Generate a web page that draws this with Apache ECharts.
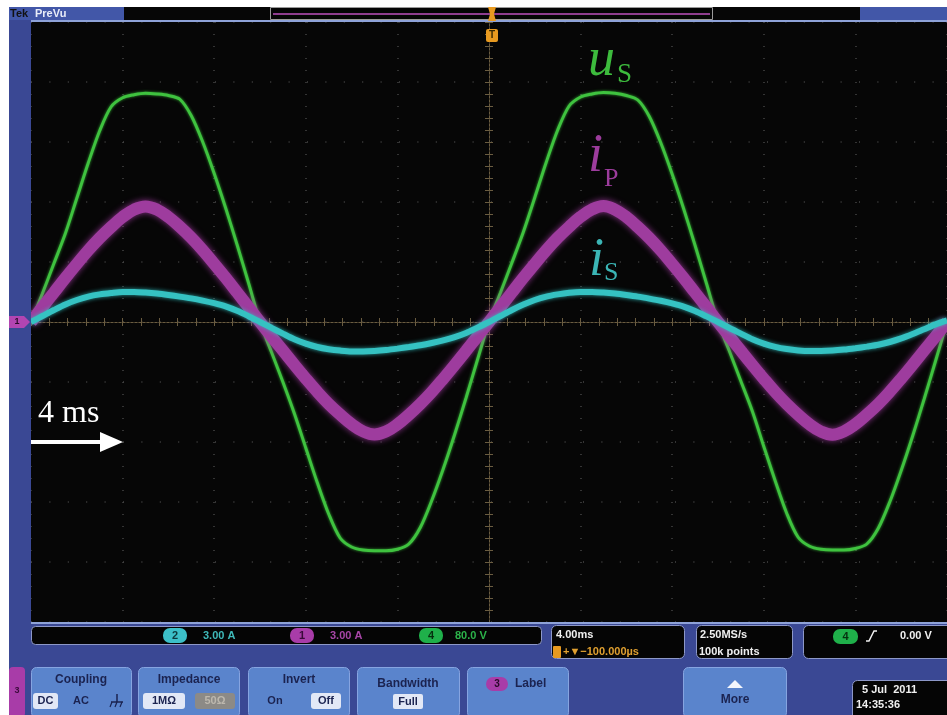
<!DOCTYPE html>
<html>
<head>
<meta charset="utf-8">
<script src="https://cdn.jsdelivr.net/npm/echarts@6/dist/echarts.min.js"></script>
<style>
  html, body { margin: 0; padding: 0; background: #fff; }
  #main { width: 947px; height: 715px; }
</style>
</head>
<body>
<div id="main"></div>
<script>
// time base 4 ms/div, trigger at 0
var timeMs = [-20, -19.5, -19, -18.5, -18, -17.5, -17, -16.5, -16, -15.5, -15, -14.5, -14, -13.5, -13, -12.5, -12, -11.5, -11, -10.5,
  -10, -9.5, -9, -8.5, -8, -7.5, -7, -6.5, -6, -5.5, -5, -4.5, -4, -3.5, -3, -2.5, -2, -1.5, -1, -0.5,
  0, 0.5, 1, 1.5, 2, 2.5, 3, 3.5, 4, 4.5, 5, 5.5, 6, 6.5, 7, 7.5, 8, 8.5, 9, 9.5,
  10, 10.5, 11, 11.5, 12, 12.5, 13, 13.5, 14, 14.5, 15, 15.5, 16, 16.5, 17, 17.5, 18, 18.5, 19, 19.5, 20];

// ch4 u_S (80 V/div)
var usV = [0, 38, 78, 118, 165, 212, 255, 287, 299, 303, 305, 304, 302, 297, 275, 240, 198, 152, 103, 52,
  0, -40, -80, -122, -168, -214, -256, -288, -300, -304, -305, -305, -303, -296, -274, -238, -196, -150, -101, -50,
  0, 39, 79, 120, 166, 213, 256, 288, 300, 304, 306, 305, 302, 296, 274, 239, 197, 151, 102, 51,
  0, -39, -79, -119, -166, -212, -255, -287, -299, -303, -304, -304, -302, -296, -275, -240, -198, -152, -103, -52, 0];

// ch1 i_P (3 A/div)
var ipA = [0, 0.74, 1.47, 2.2, 2.9, 3.58, 4.2, 4.75, 5.25, 5.62, 5.78, 5.62, 5.25, 4.76, 4.21, 3.59, 2.91, 2.21, 1.48, 0.74,
  0, -0.72, -1.43, -2.14, -2.83, -3.49, -4.1, -4.63, -5.11, -5.47, -5.63, -5.48, -5.12, -4.64, -4.1, -3.5, -2.84, -2.15, -1.44, -0.72,
  0, 0.74, 1.48, 2.21, 2.91, 3.59, 4.21, 4.76, 5.26, 5.63, 5.8, 5.62, 5.25, 4.75, 4.2, 3.58, 2.9, 2.2, 1.47, 0.74,
  0, -0.72, -1.44, -2.15, -2.84, -3.5, -4.1, -4.64, -5.12, -5.48, -5.64, -5.47, -5.11, -4.63, -4.1, -3.49, -2.83, -2.14, -1.43, -0.72, 0];

// ch2 i_S (3 A/div)
var isA = [0, 0.3, 0.6, 0.88, 1.1, 1.27, 1.38, 1.45, 1.5, 1.5, 1.47, 1.42, 1.35, 1.27, 1.18, 1.07, 0.94, 0.78, 0.56, 0.29,
  0, -0.29, -0.58, -0.86, -1.08, -1.25, -1.36, -1.43, -1.47, -1.47, -1.45, -1.4, -1.33, -1.25, -1.16, -1.05, -0.92, -0.76, -0.55, -0.28,
  0, 0.3, 0.6, 0.87, 1.1, 1.27, 1.38, 1.46, 1.5, 1.5, 1.47, 1.42, 1.35, 1.27, 1.17, 1.06, 0.93, 0.77, 0.55, 0.28,
  0, -0.3, -0.58, -0.86, -1.08, -1.24, -1.35, -1.42, -1.45, -1.45, -1.43, -1.38, -1.31, -1.23, -1.14, -1.0, -0.82, -0.6, -0.36, -0.12, 0.08];

function pairs(vals) {
  return timeMs.map(function (t, i) { return [t, vals[i]]; });
}

var BLUE = '#3a4894', BTN = '#5a84cc', NAVY = '#1b2350', FRAME = '#8d98c8';
var UIFONT = 'bold 11px "Liberation Sans"';

function rect(x, y, w, h, fill, stroke, r) {
  return { type: 'rect', z: 50, shape: { x: x, y: y, width: w, height: h, r: r || 0 },
    style: { fill: fill, stroke: stroke || null, lineWidth: 1 } };
}
function txt(x, y, s, font, fill, align) {
  return { type: 'text', z: 60, style: { text: s, x: x, y: y, font: font, fill: fill,
    align: align || 'left', verticalAlign: 'middle', textAlign: align || 'left', textVerticalAlign: 'middle' } };
}
function poly(points, fill) {
  return { type: 'polygon', z: 55, shape: { points: points }, style: { fill: fill } };
}
function line(pts, stroke, w) {
  return { type: 'polyline', z: 55, shape: { points: pts }, style: { stroke: stroke, lineWidth: w || 1, fill: null } };
}

var graphics = [
  rect(0, 0, 947, 7, '#ffffff'),
  rect(0, 0, 9, 715, '#ffffff'),
  rect(9, 20, 22, 695, BLUE),
  rect(9, 623, 938, 92, BLUE),
  // top bar
  rect(9, 7, 115, 13, '#4257a8'),
  txt(10, 13.5, 'Tek', 'bold 11px "Liberation Sans"', '#111111'),
  txt(35, 13.5, 'PreVu', 'bold 11px "Liberation Sans"', '#e8ecf8'),
  rect(270.5, 7.5, 442, 12, '#050505', '#9a9a9a'),
  line([[273, 14], [710, 14]], '#8f3d8f', 2),
  rect(860, 7, 87, 13, '#4257a8'),
  rect(31, 20, 916, 2, '#8ea2d8'),
  rect(31, 622, 916, 2, '#8ea2d8'),
  // trigger markers
  poly([[488, 7], [496, 7], [494, 14], [496, 21], [488, 21], [490, 14]], '#e89a20'),
  rect(486, 29, 12, 13, '#e89a20', null, 2),
  txt(492, 35.5, 'T', 'bold 10px "Liberation Sans"', '#3a2a00', 'center'),
  // ch1 ground marker
  poly([[9, 316], [24, 316], [30, 322], [24, 328], [9, 328]], '#b245b2'),
  txt(17, 322, '1', 'bold 9px "Liberation Sans"', '#2a0a2a', 'center'),
  // status readouts
  rect(31.5, 626.5, 510, 18, '#050505', FRAME, 4),
  rect(163, 628, 24, 15, '#3cc0c8', null, 7),
  txt(175, 635.5, '2', UIFONT, '#0d3a3d', 'center'),
  txt(203, 635.5, '3.00 A', UIFONT, '#3fb9b9'),
  rect(290, 628, 24, 15, '#a83ca8', null, 7),
  txt(302, 635.5, '1', UIFONT, '#3a0a3a', 'center'),
  txt(330, 635.5, '3.00 A', UIFONT, '#a846a8'),
  rect(419, 628, 24, 15, '#1fb04a', null, 7),
  txt(431, 635.5, '4', UIFONT, '#06300f', 'center'),
  txt(455, 635.5, '80.0 V', UIFONT, '#2cb34a'),
  rect(551.5, 625.5, 133, 33, '#050505', FRAME, 5),
  txt(556, 635, '4.00ms', UIFONT, '#f0f0f0'),
  rect(553, 646, 8, 12, '#e89a20', null, 1),
  txt(563, 652, '+\u25BC\u2212100.000\u00B5s', UIFONT, '#e0a030'),
  rect(696.5, 625.5, 96, 33, '#050505', FRAME, 5),
  txt(700, 635, '2.50MS/s', UIFONT, '#f0f0f0'),
  txt(699, 652, '100k points', UIFONT, '#f0f0f0'),
  rect(803.5, 625.5, 150, 33, '#050505', FRAME, 5),
  rect(833, 629, 25, 15, '#1fb04a', null, 7),
  txt(845.5, 636.5, '4', UIFONT, '#06300f', 'center'),
  line([[866, 641], [869, 641], [874, 631], [877, 631]], '#f0f0f0', 1.5),
  txt(900, 636, '0.00 V', UIFONT, '#f0f0f0'),
  // bottom buttons
  rect(9, 667, 16, 50, '#a83ca8', null, 4),
  txt(17, 691, '3', 'bold 9px "Liberation Sans"', '#3a0a3a', 'center'),
  rect(31.5, 667.5, 100, 50, BTN, '#86a4e0', 5),
  rect(138.5, 667.5, 101, 50, BTN, '#86a4e0', 5),
  rect(248.5, 667.5, 101, 50, BTN, '#86a4e0', 5),
  rect(357.5, 667.5, 102, 50, BTN, '#86a4e0', 5),
  rect(467.5, 667.5, 101, 50, BTN, '#86a4e0', 5),
  rect(683.5, 667.5, 103, 50, BTN, '#86a4e0', 5),
  txt(81, 680, 'Coupling', 'bold 12px "Liberation Sans"', NAVY, 'center'),
  rect(33, 693, 25, 16, '#e2e8f6', null, 3),
  txt(45.5, 701, 'DC', 'bold 11px "Liberation Sans"', NAVY, 'center'),
  txt(81, 701, 'AC', 'bold 11px "Liberation Sans"', NAVY, 'center'),
  line([[117, 694], [117, 702]], NAVY, 1.5),
  line([[111, 702], [123, 702]], NAVY, 1.5),
  line([[112, 702], [110, 707]], NAVY, 1.2),
  line([[117, 702], [115, 707]], NAVY, 1.2),
  line([[122, 702], [120, 707]], NAVY, 1.2),
  txt(189, 680, 'Impedance', 'bold 12px "Liberation Sans"', NAVY, 'center'),
  rect(143, 693, 42, 16, '#e2e8f6', null, 3),
  txt(164, 701, '1M\u03A9', 'bold 11px "Liberation Sans"', NAVY, 'center'),
  rect(195, 693, 40, 16, '#8c8a86', null, 3),
  txt(215, 701, '50\u03A9', 'bold 11px "Liberation Sans"', '#bdb8ae', 'center'),
  txt(299, 680, 'Invert', 'bold 12px "Liberation Sans"', NAVY, 'center'),
  txt(275, 701, 'On', 'bold 11px "Liberation Sans"', NAVY, 'center'),
  rect(311, 693, 30, 16, '#e2e8f6', null, 3),
  txt(326, 701, 'Off', 'bold 11px "Liberation Sans"', NAVY, 'center'),
  txt(408, 684, 'Bandwidth', 'bold 12px "Liberation Sans"', NAVY, 'center'),
  rect(393, 694, 30, 15, '#e2e8f6', null, 2),
  txt(408, 701.5, 'Full', 'bold 11px "Liberation Sans"', NAVY, 'center'),
  rect(486, 677, 22, 14, '#a83ca8', null, 7),
  txt(497, 684, '3', 'bold 10px "Liberation Sans"', '#2a0a2a', 'center'),
  txt(515, 684, 'Label', 'bold 12px "Liberation Sans"', NAVY),
  poly([[727, 688], [735, 680], [743, 688]], '#f4f6fc'),
  txt(735, 700, 'More', 'bold 12px "Liberation Sans"', NAVY, 'center'),
  rect(852.5, 680.5, 100, 40, '#050505', FRAME, 5),
  txt(862, 690, '5 Jul  2011', UIFONT, '#f0f0f0'),
  txt(856, 705, '14:35:36', UIFONT, '#f0f0f0'),
  // annotations
  txt(38, 414, '4 ms', '32px "Liberation Serif"', '#ffffff'),
  line([[31, 442], [102, 442]], '#ffffff', 4),
  poly([[100, 432], [123, 442], [100, 452]], '#ffffff'),
  txt(588, 61, 'u', 'italic 54px "Liberation Serif"', '#3dbb3d'),
  txt(617, 75, 'S', '27px "Liberation Serif"', '#3dbb3d'),
  txt(588, 157, 'i', 'italic 54px "Liberation Serif"', '#9c3c9c'),
  txt(604, 179, 'P', '26px "Liberation Serif"', '#9c3c9c'),
  txt(589, 261, 'i', 'italic 54px "Liberation Serif"', '#3bb5b5'),
  txt(604, 273, 'S', '26px "Liberation Serif"', '#3bb5b5')
];

var CENTER = '#6a5c40';
var DOTS = '#444444';

var option = {
  animation: false,
  backgroundColor: '#060606',
  grid: { left: 31, top: 22, width: 920, height: 600, show: false },
  xAxis: [
    { type: 'value', min: -20, max: 20, interval: 4,
      axisLine: { onZero: true, lineStyle: { color: CENTER, type: [2, 2] } },
      axisTick: { show: true, length: 4, lineStyle: { color: CENTER } },
      minorTick: { show: true, splitNumber: 5, length: 4, lineStyle: { color: CENTER } },
      axisLabel: { show: false },
      splitLine: { show: true, lineStyle: { color: DOTS, type: [1, 11], width: 1.5 } } },
    { type: 'value', min: -20, max: 20, interval: 4, position: 'bottom',
      axisLine: { onZero: true, onZeroAxisIndex: 0, lineStyle: { color: CENTER, type: [2, 2] } },
      axisTick: { show: true, inside: true, length: 4, lineStyle: { color: CENTER } },
      minorTick: { show: true, splitNumber: 5, length: 4, lineStyle: { color: CENTER } },
      axisLabel: { show: false }, splitLine: { show: false } }
  ],
  yAxis: [
    { type: 'value', min: -400, max: 400, interval: 80, position: 'left',
      axisLine: { onZero: true, lineStyle: { color: CENTER, type: [2, 2] } },
      axisTick: { show: true, length: 4, lineStyle: { color: CENTER } },
      minorTick: { show: true, splitNumber: 5, length: 4, lineStyle: { color: CENTER } },
      axisLabel: { show: false },
      splitLine: { show: true, lineStyle: { color: DOTS, type: [1, 17.4], width: 1.5 } } },
    { type: 'value', min: -15, max: 15, show: false, axisLine: { onZero: false } },
    { type: 'value', min: -400, max: 400, interval: 80, position: 'left',
      axisLine: { onZero: true, onZeroAxisIndex: 0, lineStyle: { color: CENTER, type: [2, 2] } },
      axisTick: { show: true, inside: true, length: 4, lineStyle: { color: CENTER } },
      minorTick: { show: true, splitNumber: 5, length: 4, lineStyle: { color: CENTER } },
      axisLabel: { show: false }, splitLine: { show: false } }
  ],
  series: [
    { name: 'u_S', type: 'line', xAxisIndex: 0, yAxisIndex: 0, data: pairs(usV), smooth: 0.3,
      showSymbol: false, z: 3,
      lineStyle: { color: '#3fc23f', width: 3, shadowBlur: 3, shadowColor: 'rgba(60,200,60,0.8)' } },
    { name: 'i_P', type: 'line', xAxisIndex: 0, yAxisIndex: 1, data: pairs(ipA), smooth: 0.4,
      showSymbol: false, z: 4,
      lineStyle: { color: '#9e3c9e', width: 12, shadowBlur: 6, shadowColor: 'rgba(170,60,170,0.8)' } },
    { name: 'i_S', type: 'line', xAxisIndex: 0, yAxisIndex: 1, data: pairs(isA), smooth: 0.3,
      showSymbol: false, z: 5,
      lineStyle: { color: '#35c2c2', width: 6, shadowBlur: 4, shadowColor: 'rgba(50,200,200,0.8)' } }
  ],
  graphic: { elements: graphics }
};

var chart = echarts.init(document.getElementById('main'));
chart.setOption(option);
</script>
</body>
</html>
